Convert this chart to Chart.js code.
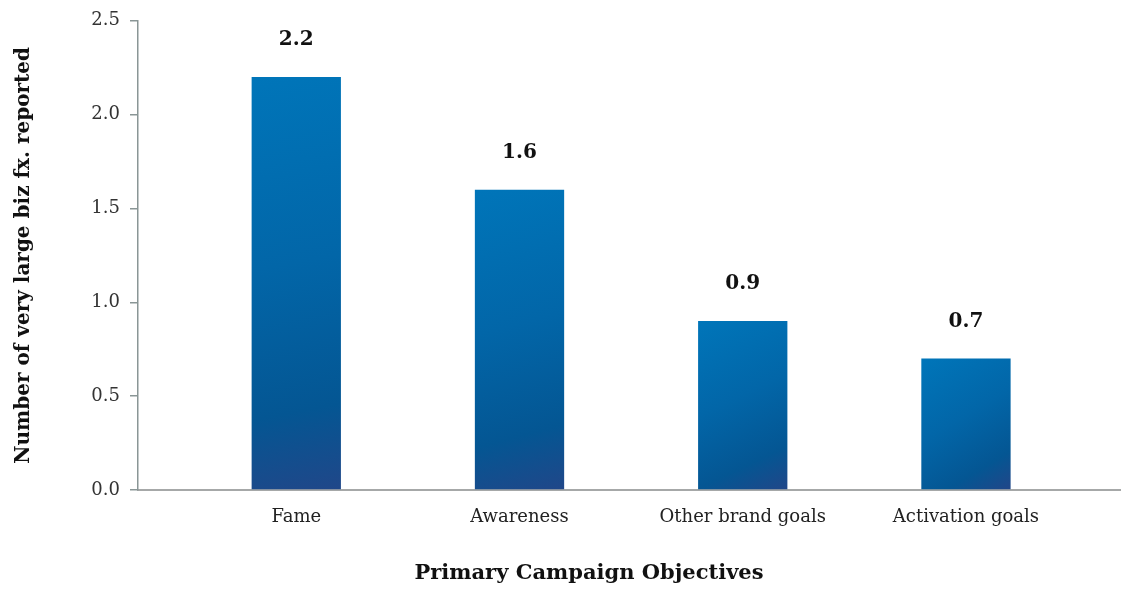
<!DOCTYPE html>
<html>
<head>
<meta charset="utf-8">
<script src="https://cdn.jsdelivr.net/npm/chart.js@4/dist/chart.umd.min.js"></script>
<style>
  html, body { margin: 0; padding: 0; background: #ffffff; }
  #wrap { width: 1121px; height: 590px; position: relative; }
</style>
</head>
<body>
<div id="wrap"><canvas id="c"></canvas></div>
<script>
const categories = ['Fame', 'Awareness', 'Other brand goals', 'Activation goals'];
const values = [2.2, 1.6, 0.9, 0.7];
const yTickValues = [0.0, 0.5, 1.0, 1.5, 2.0, 2.5];
const yAxisTitle = 'Number of very large biz fx. reported';
const xAxisTitle = 'Primary Campaign Objectives';

function barGradient(c) {
  const chart = c.chart;
  const area = chart.chartArea;
  if (!area) return '#0067a8';
  const ys = chart.scales.y;
  const xs = chart.scales.x;
  const v = c.raw && c.raw.y !== undefined ? c.raw.y : 0;
  const top = ys.getPixelForValue(v);
  const bottom = ys.getPixelForValue(0);
  const cx = xs.getPixelForValue(c.dataIndex);
  const g = chart.ctx.createLinearGradient(cx - 40, top, cx + 40, bottom);
  g.addColorStop(0, '#0075b9');
  g.addColorStop(0.45, '#0266a8');
  g.addColorStop(0.8, '#045693');
  g.addColorStop(1, '#204789');
  return g;
}

const valueLabels = {
  id: 'valueLabels',
  afterDatasetsDraw(chart) {
    const ctx = chart.ctx;
    const meta = chart.getDatasetMeta(0);
    ctx.save();
    ctx.font = 'bold 20px "DejaVu Serif", serif';
    ctx.fillStyle = '#111111';
    ctx.textAlign = 'center';
    ctx.textBaseline = 'middle';
    meta.data.forEach((el, i) => {
      ctx.fillText(values[i].toFixed(1), el.x, el.y - 37);
    });
    ctx.restore();
  }
};

const xTitle = {
  id: 'xTitle',
  afterDraw(chart) {
    const ctx = chart.ctx;
    const a = chart.chartArea;
    ctx.save();
    ctx.font = 'bold 21px "DejaVu Serif", serif';
    ctx.fillStyle = '#111111';
    ctx.textAlign = 'center';
    ctx.textBaseline = 'middle';
    ctx.fillText(xAxisTitle, (a.left + a.right) / 2 - 40, 574);
    ctx.restore();
  }
};

new Chart(document.getElementById('c'), {
  type: 'bar',
  data: {
    datasets: [{
      data: values.map((v, i) => ({ x: i, y: v })),
      backgroundColor: barGradient,
      borderWidth: 0,
      barPercentage: 0.4,
      categoryPercentage: 1.0
    }]
  },
  options: {
    responsive: true,
    maintainAspectRatio: false,
    animation: false,
    layout: { padding: { top: 20, right: 1, left: 0, bottom: 0 } },
    plugins: { legend: { display: false }, tooltip: { enabled: false } },
    scales: {
      x: {
        type: 'linear',
        offset: false,
        min: -0.709,
        max: 3.69,
        afterFit(s) { s.height = 100; },
        grid: { display: false, drawTicks: false, offset: false },
        border: { display: true, color: '#a6a8a8', width: 2 },
        ticks: {
          stepSize: 1,
          includeBounds: false,
          autoSkip: false,
          maxRotation: 0,
          padding: 17,
          color: '#222222',
          font: { family: '"DejaVu Serif", serif', size: 18 },
          callback: (v) => (Number.isInteger(v) && v >= 0 && v < categories.length) ? categories[v] : ''
        }
      },
      y: {
        min: 0,
        max: 2.5,
        afterFit(s) { s.width = 138; },
        afterBuildTicks(s) { s.ticks = yTickValues.map(v => ({ value: v })); },
        grid: { drawOnChartArea: false, drawTicks: true, tickLength: 8, color: '#8a9696', lineWidth: 1.5 },
        border: { display: true, color: '#8a9696', width: 1.5 },
        ticks: {
          padding: 10,
          color: '#333333',
          font: { family: '"DejaVu Serif", serif', size: 18 },
          callback: (v) => Number(v).toFixed(1)
        },
        title: {
          display: true,
          text: yAxisTitle,
          color: '#111111',
          font: { family: '"DejaVu Serif", serif', size: 20, weight: 'bold' },
          padding: { top: 12, bottom: 0 }
        }
      }
    }
  },
  plugins: [valueLabels, xTitle]
});
</script>
</body>
</html>
